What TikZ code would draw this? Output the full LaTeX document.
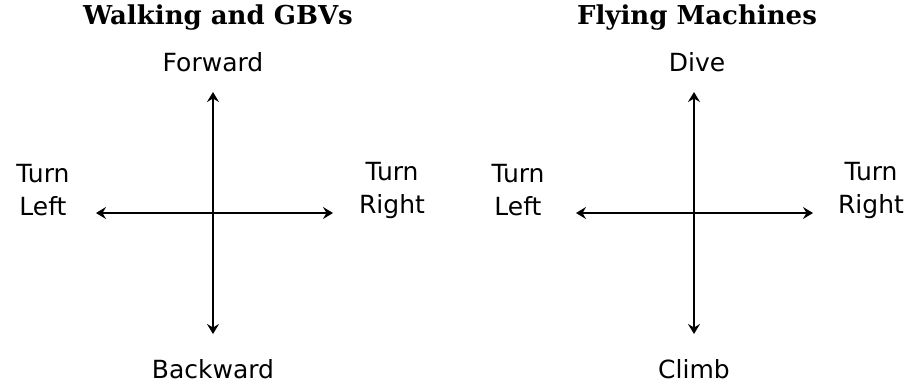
\documentclass[tikz,border=0pt]{standalone}
\usepackage{fontspec}
\setmainfont{DejaVu Sans}
\newfontfamily\titlefont{DejaVu Serif}
\usetikzlibrary{arrows.meta}

\begin{document}
\begin{tikzpicture}[x=1pt,y=-1pt,
    lbl/.style={font=\fontsize{25}{33}\selectfont, inner sep=0pt},
    ttl/.style={font=\titlefont\bfseries\fontsize{26}{30}\selectfont, inner sep=0pt},
    axis/.style={line width=2.6pt, {Stealth[length=10pt,width=12pt,inset=3.5pt]}-{Stealth[length=10pt,width=12pt,inset=3.5pt]}}]
    \useasboundingbox (0,0) rectangle (907,383);

    % left cross: walking
    \node[ttl] (wtitle) at (218,18) {Walking and GBVs};
    \node[lbl] (fwd) at (213,62) {Forward};
    \node[lbl] (bwd) at (213,369) {Backward};
    \node[lbl, align=center] (wleft) at (43,190) {Turn\\Left};
    \node[lbl, align=center] (wright) at (392,190) {Turn\\Right};
    \coordinate (wn) at (213,92);
    \coordinate (ws) at (213,334);
    \coordinate (ww) at (96,213);
    \coordinate (we) at (333,213);
    \draw [axis] (wn) -- (ws);
    \draw [axis] (ww) -- (we);

    % right cross: flying
    \node[ttl] (ftitle) at (697,18) {Flying Machines};
    \node[lbl] (dive) at (697,62) {Dive};
    \node[lbl] (climb) at (694,369) {Climb};
    \node[lbl, align=center] (fleft) at (518,190) {Turn\\Left};
    \node[lbl, align=center] (fright) at (871,190) {Turn\\Right};
    \coordinate (fn) at (694,92);
    \coordinate (fs) at (694,334);
    \coordinate (fw) at (576,213);
    \coordinate (fe) at (813,213);
    \draw [axis] (fn) -- (fs);
    \draw [axis] (fw) -- (fe);
\end{tikzpicture}
\end{document}
